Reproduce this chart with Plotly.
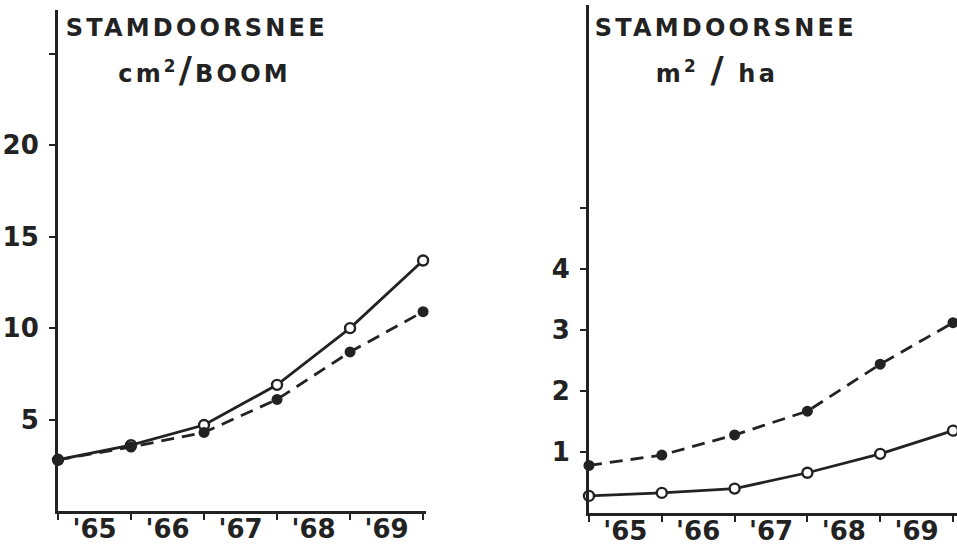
import plotly.graph_objects as go

# ---- data ----
points = [0, 1, 2, 3, 4, 5]
year_labels = ["'65", "'66", "'67", "'68", "'69"]
year_label_pos = [0.5, 1.5, 2.5, 3.5, 4.5]

left_open = [2.8, 3.6, 4.7, 6.9, 10.0, 13.7]
left_filled = [2.8, 3.5, 4.3, 6.1, 8.7, 10.9]
left_ticks = [5, 10, 15, 20, 25]
left_ticktext = ["5", "10", "15", "20", ""]

right_open = [0.28, 0.33, 0.40, 0.66, 0.97, 1.35]
right_filled = [0.78, 0.95, 1.28, 1.67, 2.44, 3.12]
right_ticks = [1, 2, 3, 4, 5]
right_ticktext = ["1", "2", "3", "4", ""]

INK = "#222222"
FONT = "DejaVu Sans"
W, H = 957, 550

fig = go.Figure()

def add_series(xa, ya, yo, yf):
    fig.add_trace(go.Scatter(x=points, y=yo, xaxis=xa, yaxis=ya, mode="lines+markers",
                             line=dict(color=INK, width=2.8),
                             marker=dict(symbol="circle", size=10, color="white",
                                         line=dict(color=INK, width=2.4)),
                             showlegend=False, cliponaxis=False))
    fig.add_trace(go.Scatter(x=points, y=yf, xaxis=xa, yaxis=ya, mode="lines+markers",
                             line=dict(color=INK, width=2.8, dash="13px,8px"),
                             marker=dict(symbol="circle", size=11, color=INK),
                             showlegend=False, cliponaxis=False))

add_series("x", "y", left_open, left_filled)
add_series("x2", "y2", right_open, right_filled)

tickfont = dict(family=FONT, size=26, color=INK, weight="bold")
axis_common = dict(showline=True, linewidth=3, linecolor=INK, showgrid=False, zeroline=False,
                   ticks="outside", tickwidth=2, tickcolor=INK, ticklen=6, tickfont=tickfont)

fig.update_layout(
    width=W, height=H, margin=dict(l=0, r=0, t=0, b=0),
    paper_bgcolor="white", plot_bgcolor="white",
    xaxis=dict(axis_common, domain=[58 / W, 426 / W], range=[0, 5.04], tickvals=points,
               showticklabels=False, anchor="y"),
    yaxis=dict(axis_common, domain=[39 / H, 540 / H], range=[0, 27.4], tickvals=left_ticks,
               ticktext=left_ticktext, anchor="x", ticklabelstandoff=5),
    xaxis2=dict(axis_common, domain=[589 / W, 1.0], range=[0, 5.055], tickvals=points,
                showticklabels=False, anchor="y2"),
    yaxis2=dict(axis_common, domain=[37 / H, 545 / H], range=[0, 8.33], tickvals=right_ticks,
                ticktext=right_ticktext, anchor="x2", ticklabelstandoff=5),
    xaxis3=dict(overlaying="x", anchor="y", range=[0, 5.04], showline=False, showgrid=False,
                zeroline=False, ticks="", tickvals=year_label_pos, ticktext=year_labels,
                tickfont=tickfont, side="bottom"),
    xaxis4=dict(overlaying="x2", anchor="y2", range=[0, 5.055], showline=False, showgrid=False,
                zeroline=False, ticks="", tickvals=year_label_pos, ticktext=year_labels,
                tickfont=tickfont, side="bottom"),
)

# invisible traces to activate label axes
fig.add_trace(go.Scatter(x=[0], y=[0], xaxis="x3", yaxis="y", mode="markers",
                         marker=dict(opacity=0), showlegend=False, hoverinfo="skip"))
fig.add_trace(go.Scatter(x=[0], y=[0], xaxis="x4", yaxis="y2", mode="markers",
                         marker=dict(opacity=0), showlegend=False, hoverinfo="skip"))

SLASH = "<span style='font-size:36px'>/</span>"
titles = [
    ("STAMDOORSNEE", 197, 28),
    ("cm<sup>2</sup>" + SLASH + "BOOM", 204, 70),
    ("STAMDOORSNEE", 726, 28),
    ("m<sup>2</sup> " + SLASH + " ha", 717, 70),
]
for text, px, py in titles:
    fig.add_annotation(text=text, x=px / W, y=1 - py / H, xref="paper", yref="paper",
                       showarrow=False, xanchor="center", yanchor="middle",
                       font=dict(family=FONT, size=24, color=INK, weight="bold"))

post = """
document.body.style.margin = '0';
document.querySelectorAll('text.annotation-text').forEach(function(e){
  e.style.letterSpacing = '3.2px';
});
"""
fig.write_html("out.html", post_script=post, config={"displayModeBar": False, "staticPlot": True})
